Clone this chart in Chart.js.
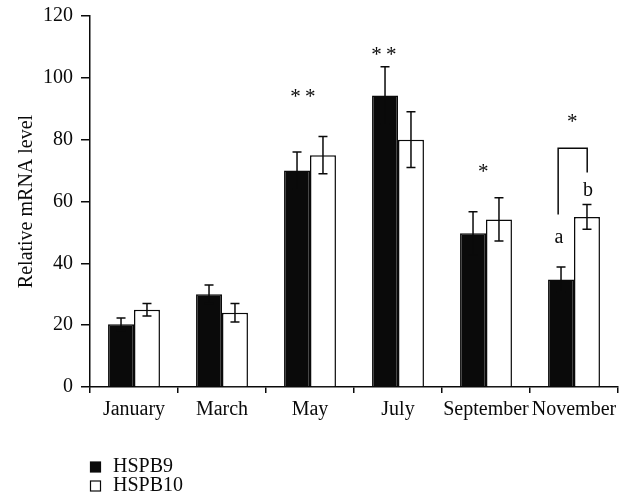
<!DOCTYPE html>
<html>
<head>
<meta charset="utf-8">
<script src="https://cdn.jsdelivr.net/npm/chart.js@4.4.1/dist/chart.umd.min.js"></script>
<style>
html, body { margin: 0; padding: 0; background: #fff; }
</style>
</head>
<body>
<canvas id="barChart" width="630" height="502"></canvas>
<script>
// data
const months = ['January', 'March', 'May', 'July', 'September', 'November'];
const hspb9 = [20.3, 30, 70, 94.3, 49.7, 34.8];
const hspb9Err = [2, 3, 6, 9.3, 7, 4];
const hspb10 = [25, 24, 75, 80, 54.2, 55];
const hspb10Err = [2, 3, 6, 9, 7, 4];
const yTicks = [0, 20, 40, 60, 80, 100, 120];

// significance marks: category, offset in category widths, value, text
const marks = [
    { cat: 2, dx: -0.08, y: 93.5, text: '*\u2009*' },
    { cat: 3, dx: -0.16, y: 107.3, text: '*\u2009*' },
    { cat: 4, dx: -0.03, y: 69.5, text: '*' },
    { cat: 5, dx: -0.02, y: 85.7, text: '*' },
    { cat: 5, dx: -0.17, y: 48.4, text: 'a' },
    { cat: 5, dx: 0.16, y: 63.5, text: 'b' }
];
const bracket = { cat: 5, left: -0.18, right: 0.15, leftFrom: 55.8, rightFrom: 69.4, top: 77.2 };

const FONT = "'Liberation Serif', 'Times New Roman', serif";
const INK = '#0a0a0a';

const errorBars = {
    id: 'errorBars',
    afterDatasetsDraw(chart) {
        const ctx = chart.ctx;
        const y = chart.scales.y;
        ctx.save();
        ctx.strokeStyle = INK;
        ctx.lineWidth = 1.5;
        chart.data.datasets.forEach((ds, i) => {
            chart.getDatasetMeta(i).data.forEach((bar, j) => {
                const hi = y.getPixelForValue(ds.data[j] + ds.errors[j]);
                const lo = y.getPixelForValue(ds.data[j] - ds.errors[j]);
                ctx.beginPath();
                ctx.moveTo(bar.x, hi); ctx.lineTo(bar.x, lo);
                ctx.moveTo(bar.x - 4.5, hi); ctx.lineTo(bar.x + 4.5, hi);
                ctx.moveTo(bar.x - 4.5, lo); ctx.lineTo(bar.x + 4.5, lo);
                ctx.stroke();
            });
        });
        ctx.restore();
    }
};

const sigMarks = {
    id: 'sigMarks',
    afterDatasetsDraw(chart) {
        const ctx = chart.ctx;
        const x = chart.scales.x, y = chart.scales.y;
        const w = x.getPixelForValue(1) - x.getPixelForValue(0);
        ctx.save();
        ctx.fillStyle = INK;
        ctx.textAlign = 'center';
        ctx.textBaseline = 'middle';
        marks.forEach(m => {
            ctx.font = (m.text.includes('*') ? '21px ' : '20px ') + FONT;
            ctx.fillText(m.text, x.getPixelForValue(m.cat) + m.dx * w, y.getPixelForValue(m.y));
        });
        // bracket over November
        const cx = x.getPixelForValue(bracket.cat);
        const xl = cx + bracket.left * w, xr = cx + bracket.right * w;
        ctx.strokeStyle = INK;
        ctx.lineWidth = 1.5;
        ctx.beginPath();
        ctx.moveTo(xl, y.getPixelForValue(bracket.leftFrom));
        ctx.lineTo(xl, y.getPixelForValue(bracket.top));
        ctx.lineTo(xr, y.getPixelForValue(bracket.top));
        ctx.lineTo(xr, y.getPixelForValue(bracket.rightFrom));
        ctx.stroke();
        ctx.restore();
    }
};

const boxLegend = {
    id: 'boxLegend',
    afterDraw(chart) {
        const ctx = chart.ctx;
        const left = chart.chartArea.left;
        ctx.save();
        ctx.font = '20px ' + FONT;
        ctx.textBaseline = 'middle';
        ctx.lineWidth = 1.2;
        chart.data.datasets.forEach((ds, i) => {
            const cy = 467 + i * 19;
            ctx.fillStyle = ds.backgroundColor;
            ctx.strokeStyle = INK;
            ctx.fillRect(left + 0.5, cy - 5, 10, 10);
            ctx.strokeRect(left + 0.5, cy - 5, 10, 10);
            ctx.fillStyle = INK;
            ctx.fillText(ds.label, left + 23, cy);
        });
        ctx.restore();
    }
};

const ctx = document.getElementById('barChart').getContext('2d');
const myChart = new Chart(ctx, {
    type: 'bar',
    data: {
        labels: months,
        datasets: [{
            label: 'HSPB9',
            data: hspb9,
            errors: hspb9Err,
            backgroundColor: INK,
            borderColor: INK,
            borderWidth: 1.5
        }, {
            label: 'HSPB10',
            data: hspb10,
            errors: hspb10Err,
            backgroundColor: '#ffffff',
            borderColor: INK,
            borderWidth: 1.5
        }]
    },
    options: {
        responsive: false,
        animation: false,
        categoryPercentage: 0.59,
        barPercentage: 1.0,
        layout: { padding: { top: 16, right: 12, left: 0, bottom: 0 } },
        plugins: {
            legend: { display: false },
            tooltip: { enabled: false }
        },
        scales: {
            x: {
                afterFit(scale) { scale.height = 115; },
                grid: { offset: true, drawOnChartArea: false, tickLength: 6, color: INK, lineWidth: 1.5 },
                border: { color: INK, width: 1.5 },
                ticks: { color: INK, font: { family: FONT, size: 20 }, padding: 5, maxRotation: 0, autoSkip: false }
            },
            y: {
                min: yTicks[0],
                max: yTicks[yTicks.length - 1],
                afterFit(scale) {
                    scale.width = 90;
                    scale.paddingTop = 0;
                    scale.paddingBottom = 0;
                },
                afterBuildTicks(scale) { scale.ticks = yTicks.map(v => ({ value: v })); },
                grid: { drawOnChartArea: false, tickLength: 9, color: INK, lineWidth: 1.5 },
                border: { color: INK, width: 1.5 },
                ticks: { color: INK, font: { family: FONT, size: 20 }, padding: 8 },
                title: {
                    display: true,
                    text: 'Relative mRNA level',
                    color: INK,
                    font: { family: FONT, size: 20 },
                    padding: { top: 15, bottom: 0 }
                }
            }
        }
    },
    plugins: [errorBars, sigMarks, boxLegend]
});
</script>
</body>
</html>
